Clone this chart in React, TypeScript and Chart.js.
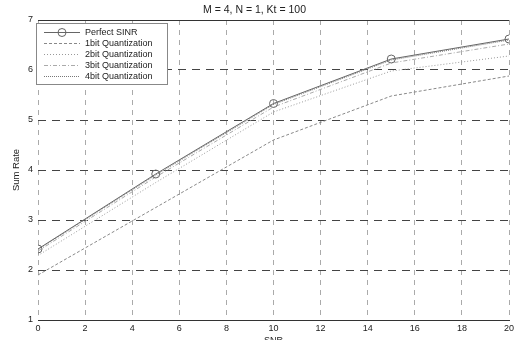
import React, { useEffect, useRef } from "react";
import { Chart, registerables } from "chart.js";

Chart.register(...registerables);

const snr = [0, 5, 10, 15, 20];
const perfectSINR = [2.42, 3.92, 5.33, 6.22, 6.62];
const bit1 = [1.9, 3.25, 4.6, 5.48, 5.88];
const bit2 = [2.29, 3.75, 5.16, 5.98, 6.28];
const bit3 = [2.38, 3.86, 5.26, 6.14, 6.52];
const bit4 = [2.41, 3.9, 5.31, 6.2, 6.6];
const seriesNames = [
  "Perfect SINR",
  "1bit Quantization",
  "2bit Quantization",
  "3bit Quantization",
  "4bit Quantization",
];
const chartTitle = "M = 4, N = 1, Kt = 100";
const xTitle = "SNR";
const yTitle = "Sum Rate";

const FONT = '"Liberation Sans", Arial, sans-serif';

const toPoints = (ys: number[]) => snr.map((x, i) => ({ x, y: ys[i] }));

const framePlugin = {
  id: "frameTop",
  afterDraw(chart: any) {
    const { ctx, chartArea } = chart;
    ctx.save();
    ctx.strokeStyle = "#333";
    ctx.lineWidth = 1;
    ctx.setLineDash([]);
    ctx.beginPath();
    ctx.moveTo(chartArea.left, Math.round(chartArea.top) + 0.5);
    ctx.lineTo(chartArea.right, Math.round(chartArea.top) + 0.5);
    ctx.stroke();
    ctx.restore();
  },
};

const legendPlugin = {
  id: "boxLegend",
  afterDraw(chart: any) {
    const ctx = chart.ctx;
    const x0 = 36;
    const y0 = 23;
    const w = 131;
    const h = 61;
    ctx.save();
    ctx.fillStyle = "#fff";
    ctx.fillRect(x0, y0, w, h);
    ctx.strokeStyle = "#888";
    ctx.lineWidth = 1;
    ctx.setLineDash([]);
    ctx.strokeRect(x0 + 0.5, y0 + 0.5, w, h);
    chart.data.datasets.forEach((ds: any, i: number) => {
      const y = 32.5 + i * 11;
      ctx.strokeStyle = ds.borderColor;
      ctx.lineWidth = ds.borderWidth || 1;
      ctx.setLineDash(ds.borderDash || []);
      ctx.beginPath();
      ctx.moveTo(44, y);
      ctx.lineTo(80, y);
      ctx.stroke();
      ctx.setLineDash([]);
      if (ds.pointRadius > 0) {
        ctx.beginPath();
        ctx.arc(62, y, ds.pointRadius, 0, Math.PI * 2);
        ctx.stroke();
      }
      ctx.fillStyle = "#222";
      ctx.font = `9px ${FONT}`;
      ctx.textBaseline = "middle";
      ctx.textAlign = "left";
      ctx.fillText(ds.label, 85, y + 0.5);
    });
    ctx.restore();
  },
};

export default function App() {
  const ref = useRef<HTMLCanvasElement | null>(null);

  useEffect(() => {
    if (!ref.current) return;
    const styles = [
      { color: "#666", dash: [], radius: 4 },
      { color: "#888", dash: [3, 2], radius: 0 },
      { color: "#999", dash: [1, 2], radius: 0 },
      { color: "#aaa", dash: [4, 2, 1, 2], radius: 0 },
      { color: "#777", dash: [1, 1], radius: 0 },
    ];
    const series = [perfectSINR, bit1, bit2, bit3, bit4];
    const chart = new Chart(ref.current, {
      type: "line",
      data: {
        datasets: series.map((s, i) => ({
          label: seriesNames[i],
          data: toPoints(s),
          borderColor: styles[i].color,
          borderWidth: 1,
          borderDash: styles[i].dash,
          pointRadius: styles[i].radius,
          pointStyle: "circle",
          pointBorderColor: styles[i].color,
          pointBackgroundColor: "rgba(0,0,0,0)",
          pointBorderWidth: 1,
          fill: false,
          tension: 0,
        })),
      },
      options: {
        animation: false,
        responsive: false,
        layout: { padding: { left: 0, right: 23, top: 0, bottom: 0 } },
        plugins: {
          legend: { display: false },
          tooltip: { enabled: false },
          title: {
            display: true,
            text: chartTitle,
            color: "#222",
            font: { family: FONT, size: 10.5, weight: "normal" },
            padding: { top: 3.7, bottom: 3.7 },
          },
        },
        scales: {
          x: {
            type: "linear",
            min: 0,
            max: 20,
            ticks: {
              stepSize: 2,
              color: "#222",
              font: { family: FONT, size: 9 },
              padding: 3,
              maxRotation: 0,
            },
            grid: {
              color: "#aaa",
              drawTicks: false,
            },
            border: { display: true, color: "#333", width: 1, dash: [5, 5] },
            title: {
              display: true,
              text: xTitle,
              color: "#222",
              font: { family: FONT, size: 9 },
              padding: { top: 0, bottom: -5.5 },
            },
            afterFit: (s: any) => {
              s.height = 20;
            },
          },
          y: {
            type: "linear",
            min: 1,
            max: 7,
            ticks: {
              stepSize: 1,
              color: "#222",
              font: { family: FONT, size: 9 },
              padding: 5,
            },
            grid: {
              color: (c: any) =>
                c.tick && (c.tick.value === 1 || c.tick.value === 7) ? "rgba(0,0,0,0)" : "#444",
              drawTicks: false,
            },
            border: { display: false, dash: [8, 6] },
            title: {
              display: true,
              text: yTitle,
              color: "#222",
              font: { family: FONT, size: 9.5 },
              padding: { top: 11, bottom: 0 },
            },
            afterFit: (s: any) => {
              s.width = 38;
            },
          },
        },
      },
      plugins: [framePlugin, legendPlugin],
    });
    return () => chart.destroy();
  }, []);

  return (
    <div
      style={{
        position: "fixed",
        left: 0,
        top: 0,
        width: 532,
        height: 340,
        overflow: "hidden",
        background: "#fff",
      }}
    >
      <canvas ref={ref} width={532} height={340} style={{ display: "block" }} />
    </div>
  );
}
